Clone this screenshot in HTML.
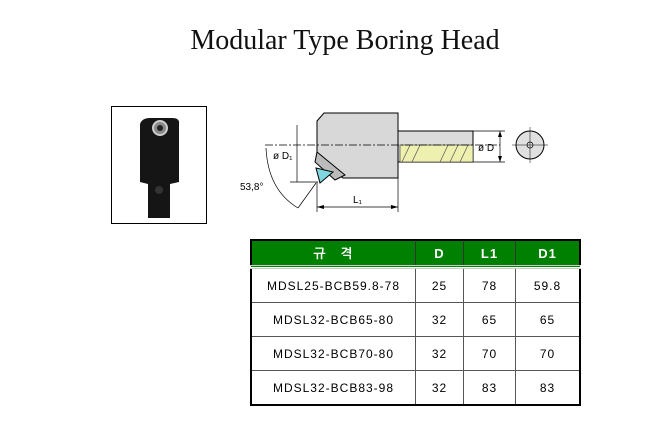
<!DOCTYPE html>
<html><head><style>
body{margin:0;width:670px;height:425px;background:#fff;position:relative;font-family:"Liberation Sans","NanumGothic",sans-serif;overflow:hidden}
.title{position:absolute;left:0;width:690px;top:25px;text-align:center;font-family:"Liberation Serif",serif;font-size:28px;color:#111}
table{position:absolute;left:250px;top:239px;width:331px;table-layout:fixed;border-collapse:collapse;border:2px solid #000;font-size:12px;letter-spacing:1px}
td{border:1px solid #555;text-align:center;height:33px;padding:0}
th{background:#008000;color:#fff;height:24px;padding:0;border:1px solid #333;border-bottom:4px double #ccc;font-size:13px}
</style></head><body>
<div class="title">Modular Type Boring Head</div>
<div style="position:absolute;left:111px;top:106px;width:94px;height:116px;border:1px solid #000"></div>
<svg style="position:absolute;left:0;top:0" width="670" height="425">
<path d="M140 124 Q142 118 150 118 L172 118 Q180 118 179 124 L179 182 L170 184 L170 218 L148 218 L148 184 L140 182 Z" fill="#151515"/>
<circle cx="160" cy="128" r="7" fill="#888" stroke="#ccc" stroke-width="2"/><circle cx="160" cy="128" r="3" fill="#222"/>
<circle cx="159" cy="190" r="4" fill="#333"/>
<path d="M324 113 L398 113 L398 178 L343 178 L317 158 L317 121 Z" fill="#d8d8d8" stroke="#000"/>
<rect x="398" y="131" width="75" height="31" fill="#dcdcdc" stroke="#000"/>
<rect x="400" y="145" width="73" height="17" fill="#eef0b0" stroke="#000" stroke-width="0.5"/>
<path d="M402 162 L410 145 M412 162 L420 145 M440 162 L448 145 M450 162 L458 145 M460 162 L468 145" stroke="#555" stroke-width="0.7"/>
<path d="M317 152 L345 175 L335 180 L315 162 Z" fill="#bbb" stroke="#000"/>
<path d="M316 168 L333 172 L320 183 Z" fill="#7fd8e0" stroke="#000"/>
<line x1="265" y1="145" x2="500" y2="145" stroke="#000" stroke-dasharray="8,2,2,2" stroke-width="0.7"/>
<line x1="297" y1="125" x2="297" y2="182" stroke="#000" stroke-width="0.7"/>
<line x1="290" y1="182" x2="318" y2="182" stroke="#000" stroke-width="0.7"/>
<line x1="317" y1="182" x2="317" y2="212" stroke="#000" stroke-width="0.7"/>
<line x1="398" y1="178" x2="398" y2="212" stroke="#000" stroke-width="0.7"/>
<line x1="317" y1="207" x2="398" y2="207" stroke="#000" stroke-width="0.7"/>
<path d="M317 207 l7 -2 v4 Z M398 207 l-7 -2 v4 Z" fill="#000"/>
<line x1="473" y1="131" x2="505" y2="131" stroke="#000" stroke-width="0.7"/>
<line x1="473" y1="162" x2="505" y2="162" stroke="#000" stroke-width="0.7"/>
<line x1="500" y1="131" x2="500" y2="162" stroke="#000" stroke-width="0.7"/>
<path d="M500 131 l-2 6 h4 Z M500 162 l-2 -6 h4 Z" fill="#000"/>
<path d="M266 148 Q268 190 298 208" fill="none" stroke="#000" stroke-width="0.7"/>
<line x1="298" y1="208" x2="316" y2="183" stroke="#000" stroke-width="0.7"/>
<circle cx="530" cy="145" r="14" fill="#e0e0e0" stroke="#000"/>
<circle cx="530" cy="145" r="3" fill="none" stroke="#000" stroke-width="0.7"/>
<line x1="512" y1="145" x2="548" y2="145" stroke="#000" stroke-width="0.5"/>
<line x1="530" y1="127" x2="530" y2="163" stroke="#000" stroke-width="0.5"/>
<text x="273" y="159" font-size="10" font-family="Liberation Sans">ø D₁</text>
<text x="478" y="151" font-size="10" font-family="Liberation Sans">ø D</text>
<text x="353" y="203" font-size="10" font-family="Liberation Sans">L₁</text>
<text x="240" y="190" font-size="10" font-family="Liberation Sans">53,8°</text>
</svg>
<table>
<tr><th style="width:163px">규 &nbsp; 격</th><th style="width:47px">D</th><th style="width:51px">L1</th><th>D1</th></tr>
<tr><td>MDSL25-BCB59.8-78</td><td>25</td><td>78</td><td>59.8</td></tr>
<tr><td>MDSL32-BCB65-80</td><td>32</td><td>65</td><td>65</td></tr>
<tr><td>MDSL32-BCB70-80</td><td>32</td><td>70</td><td>70</td></tr>
<tr><td>MDSL32-BCB83-98</td><td>32</td><td>83</td><td>83</td></tr>
</table>
</body></html>
